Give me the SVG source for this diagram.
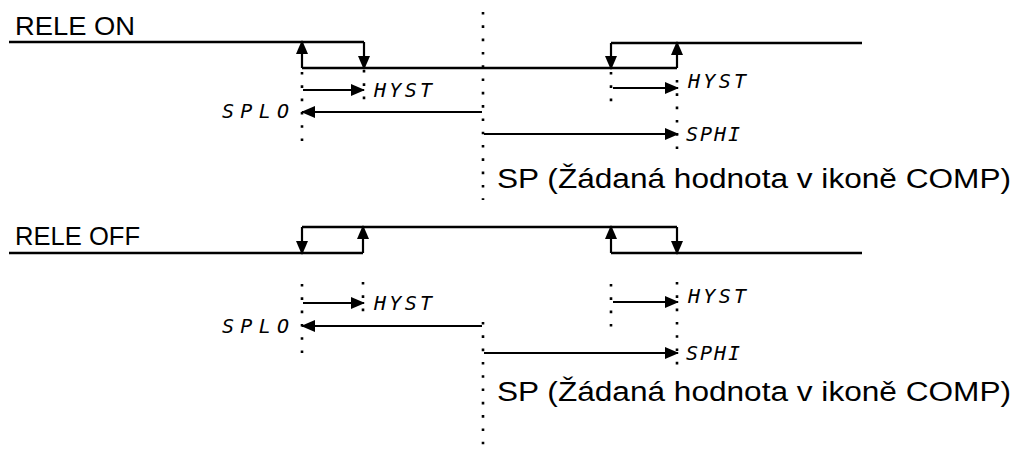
<svg xmlns="http://www.w3.org/2000/svg" width="1017" height="456" viewBox="0 0 1017 456">
<style>
.w{fill:none;stroke:#000;stroke-width:2.4}
.a{fill:none;stroke:#000;stroke-width:2.2}
.d{fill:none;stroke:#000;stroke-width:2.6;stroke-dasharray:2.6 10.7}
.t{font-family:"Liberation Sans",Arial,sans-serif;font-size:25px;fill:#000}
.sp{font-family:"Liberation Sans",Arial,sans-serif;font-size:27px;fill:#000}
.s{font-family:"DejaVu Sans Mono",monospace;font-style:italic;font-size:20px;fill:#000}
</style>
<defs>
<marker id="ah" viewBox="0 0 14 12" refX="13" refY="6" markerWidth="14" markerHeight="12" markerUnits="userSpaceOnUse" orient="auto">
<path d="M0,0 L14,6 L0,12 Z" fill="#000"/>
</marker>
</defs>
<rect width="1017" height="456" fill="#fff"/>

<g id="rele-on">
<text class="t" x="15" y="35" textLength="120" lengthAdjust="spacingAndGlyphs">RELE ON</text>
<path class="w" d="M9,42 H364 M302,68 H677 M611,43 H862"/>
</g>
<g id="rele-off">
<text class="t" x="15" y="245" textLength="125" lengthAdjust="spacingAndGlyphs">RELE OFF</text>
<path class="w" d="M9,253 H363 M302,227 H677 M611,253 H862"/>
</g>

<g id="guides">
<path class="d" d="M302,72 V142 M364,70 V100 M483,12 V200 M611,72 V112 M677,80 V150"/>
<path class="d" d="M302,284 V354 M363,282 V312 M483,322 V448 M611,284 V328 M677,282 V368"/>
</g>

<g id="connectors">
<line class="a" x1="364" y1="42" x2="364" y2="69" marker-end="url(#ah)"/>
<line class="a" x1="302" y1="68" x2="302" y2="41" marker-end="url(#ah)"/>
<line class="a" x1="611" y1="43" x2="611" y2="69" marker-end="url(#ah)"/>
<line class="a" x1="677" y1="68" x2="677" y2="42" marker-end="url(#ah)"/>
<line class="a" x1="303" y1="90" x2="364" y2="90" marker-end="url(#ah)"/>
<line class="a" x1="482" y1="112" x2="302" y2="112" marker-end="url(#ah)"/>
<line class="a" x1="613" y1="88" x2="678" y2="88" marker-end="url(#ah)"/>
<line class="a" x1="484" y1="134" x2="678" y2="134" marker-end="url(#ah)"/>

<line class="a" x1="302" y1="227" x2="302" y2="254" marker-end="url(#ah)"/>
<line class="a" x1="363" y1="253" x2="363" y2="226" marker-end="url(#ah)"/>
<line class="a" x1="611" y1="253" x2="611" y2="226" marker-end="url(#ah)"/>
<line class="a" x1="677" y1="227" x2="677" y2="254" marker-end="url(#ah)"/>
<line class="a" x1="303" y1="303" x2="364" y2="303" marker-end="url(#ah)"/>
<line class="a" x1="482" y1="326" x2="302" y2="326" marker-end="url(#ah)"/>
<line class="a" x1="613" y1="302" x2="678" y2="302" marker-end="url(#ah)"/>
<line class="a" x1="484" y1="353" x2="678" y2="353" marker-end="url(#ah)"/>
</g>

<g id="labels-on">
<text class="s" x="374" y="97" textLength="58" lengthAdjust="spacing">HYST</text>
<text class="s" x="222" y="118" textLength="67" lengthAdjust="spacing">SPLO</text>
<text class="s" x="688" y="88" textLength="58" lengthAdjust="spacing">HYST</text>
<text class="s" x="686" y="141" textLength="54" lengthAdjust="spacing">SPHI</text>
<text class="sp" x="497" y="188" textLength="514" lengthAdjust="spacingAndGlyphs">SP (Žádaná hodnota v ikoně COMP)</text>
</g>
<g id="labels-off">
<text class="s" x="374" y="310" textLength="58" lengthAdjust="spacing">HYST</text>
<text class="s" x="222" y="333" textLength="67" lengthAdjust="spacing">SPLO</text>
<text class="s" x="688" y="303" textLength="58" lengthAdjust="spacing">HYST</text>
<text class="s" x="686" y="360" textLength="54" lengthAdjust="spacing">SPHI</text>
<text class="sp" x="497" y="401" textLength="514" lengthAdjust="spacingAndGlyphs">SP (Žádaná hodnota v ikoně COMP)</text>
</g>
</svg>
